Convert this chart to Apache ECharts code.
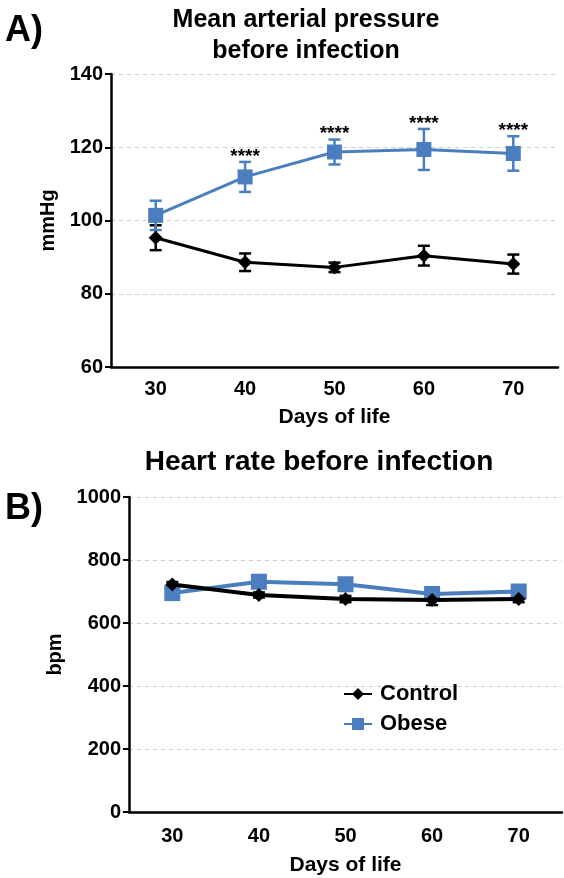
<!DOCTYPE html>
<html>
<head>
<meta charset="utf-8">
<script src="https://cdn.jsdelivr.net/npm/echarts@6/dist/echarts.min.js"></script>
<style>html,body{margin:0;padding:0;background:#fff}#c{width:564px;height:878px}</style>
</head>
<body>
<div id="c"></div>
<script>
// ---- data ----
var days = ['30', '40', '50', '60', '70'];
// A) Mean arterial pressure (mmHg)
var mapControl = [95.3, 88.6, 87.2, 90.4, 88.1];
var mapControlErr = [3.4, 2.4, 1.3, 2.7, 2.6];
var mapObese = [101.4, 111.9, 118.7, 119.4, 118.3];
var mapObeseErr = [4.0, 4.1, 3.4, 5.6, 4.7];
var mapSig = ['', '****', '****', '****', '****'];
var mapTicks = [60, 80, 100, 120, 140];
// B) Heart rate (bpm)
var hrControl = [722, 689, 676, 673, 676];
var hrControlErr = [8, 8, 10, 16, 10];
var hrObese = [695, 731, 723, 692, 700];
var hrObeseErr = [8, 8, 8, 10, 8];
var hrTicks = [0, 200, 400, 600, 800, 1000];

var BLUE = '#4a7ebf';
var BLACK = '#000000';
var FONT = '"Liberation Sans", Arial, sans-serif';

function errData(vals, errs) {
  return vals.map(function (v, i) { return [i, v - errs[i], v + errs[i]]; });
}
function errRender(color, capHalf, lw) {
  return function (params, api) {
    var x = api.value(0);
    var lo = api.coord([x, api.value(1)]);
    var hi = api.coord([x, api.value(2)]);
    var st = { stroke: color, lineWidth: lw };
    return {
      type: 'group',
      children: [
        { type: 'line', shape: { x1: lo[0], y1: lo[1], x2: hi[0], y2: hi[1] }, style: st },
        { type: 'line', shape: { x1: lo[0] - capHalf, y1: lo[1], x2: lo[0] + capHalf, y2: lo[1] }, style: st },
        { type: 'line', shape: { x1: hi[0] - capHalf, y1: hi[1], x2: hi[0] + capHalf, y2: hi[1] }, style: st }
      ]
    };
  };
}
var sigData = mapObese.map(function (v, i) { return [i, v + mapObeseErr[i], mapSig[i]]; });

var chart = echarts.init(document.getElementById('c'), null, { renderer: 'canvas' });

function xAxisCfg(gridIndex, nameGap, margin) {
  return {
    type: 'category', gridIndex: gridIndex, data: days, boundaryGap: true,
    name: 'Days of life', nameLocation: 'middle', nameGap: nameGap,
    nameTextStyle: { fontFamily: FONT, fontWeight: 'bold', fontSize: 21, color: '#000' },
    axisLine: { lineStyle: { color: '#000', width: 2.5 } },
    axisTick: { alignWithLabel: true, length: 6, lineStyle: { color: '#000', width: 2 } },
    axisLabel: { fontFamily: FONT, fontWeight: 'bold', fontSize: 20, color: '#000', margin: margin },
    splitLine: { show: false }
  };
}
function yAxisCfg(gridIndex, min, max, interval, name, nameGap) {
  return {
    type: 'value', gridIndex: gridIndex, min: min, max: max, interval: interval,
    name: name, nameLocation: 'middle', nameGap: nameGap, nameRotate: 90,
    nameTextStyle: { fontFamily: FONT, fontWeight: 'bold', fontSize: 20, color: '#000' },
    axisLine: { show: true, lineStyle: { color: '#000', width: 2.5 } },
    axisTick: { show: true, length: 6, lineStyle: { color: '#000', width: 2 } },
    axisLabel: { fontFamily: FONT, fontWeight: 'bold', fontSize: 20, color: '#000', margin: 8,
      formatter: function (v) { return String(v); } },
    splitLine: { show: true, lineStyle: { color: '#cccccc', type: [4, 4], width: 1 } }
  };
}

var option = {
  animation: false,
  backgroundColor: '#fff',
  title: [
    { text: 'Mean arterial pressure\nbefore infection', left: 301, top: 0, textAlign: 'center',
      textStyle: { fontFamily: FONT, fontWeight: 'bold', fontSize: 25, color: '#000', lineHeight: 31 } },
    { text: 'Heart rate before infection', left: 314, top: 443, textAlign: 'center',
      textStyle: { fontFamily: FONT, fontWeight: 'bold', fontSize: 28, color: '#000' } },
    { text: 'A)', left: 0, top: 8, textStyle: { fontFamily: FONT, fontWeight: 'bold', fontSize: 36, color: '#000' } },
    { text: 'B)', left: 0, top: 486, textStyle: { fontFamily: FONT, fontWeight: 'bold', fontSize: 36, color: '#000' } }
  ],
  legend: {
    orient: 'vertical', left: 338, top: 678, itemWidth: 28, itemHeight: 15, itemGap: 8,
    data: ['Control', 'Obese'],
    textStyle: { fontFamily: FONT, fontWeight: 'bold', fontSize: 22, color: '#000', padding: [0, 0, 0, 3] }
  },
  grid: [
    { left: 111, right: 6, top: 74, bottom: 511 },
    { left: 129, right: 2, top: 497, bottom: 66 }
  ],
  xAxis: [xAxisCfg(0, 40, 12), xAxisCfg(1, 43, 14)],
  yAxis: [
    yAxisCfg(0, mapTicks[0], mapTicks[mapTicks.length - 1], 20, 'mmHg', 43),
    yAxisCfg(1, hrTicks[0], hrTicks[hrTicks.length - 1], 200, 'bpm', 62)
  ],
  series: [
    { type: 'custom', name: 'ctlErrA', xAxisIndex: 0, yAxisIndex: 0, renderItem: errRender(BLACK, 6, 2.5), data: errData(mapControl, mapControlErr), z: 2 },
    { type: 'custom', name: 'obErrA', xAxisIndex: 0, yAxisIndex: 0, renderItem: errRender(BLUE, 6, 2.5), data: errData(mapObese, mapObeseErr), z: 2 },
    { type: 'line', name: 'Control', xAxisIndex: 0, yAxisIndex: 0, data: mapControl, symbol: 'diamond', symbolSize: 14,
      lineStyle: { color: BLACK, width: 3 }, itemStyle: { color: BLACK }, z: 3 },
    { type: 'line', name: 'Obese', xAxisIndex: 0, yAxisIndex: 0, data: mapObese, symbol: 'rect', symbolSize: 15,
      lineStyle: { color: BLUE, width: 3 }, itemStyle: { color: BLUE }, z: 4 },
    { type: 'custom', name: 'sig', xAxisIndex: 0, yAxisIndex: 0, z: 5,
      renderItem: function (params, api) {
        var p = api.coord([api.value(0), api.value(1)]);
        return { type: 'text', style: { text: sigData[params.dataIndex][2], x: p[0], y: p[1] + 4, textAlign: 'center', textVerticalAlign: 'bottom',
          font: 'bold 19px ' + FONT, fill: '#000' } };
      },
      data: sigData },
    { type: 'custom', name: 'ctlErrB', xAxisIndex: 1, yAxisIndex: 1, renderItem: errRender(BLACK, 6, 2.5), data: errData(hrControl, hrControlErr), z: 2 },
    { type: 'custom', name: 'obErrB', xAxisIndex: 1, yAxisIndex: 1, renderItem: errRender(BLUE, 6, 2.5), data: errData(hrObese, hrObeseErr), z: 2 },
    { type: 'line', name: 'Obese', xAxisIndex: 1, yAxisIndex: 1, data: hrObese, symbol: 'rect', symbolSize: 16,
      lineStyle: { color: BLUE, width: 4 }, itemStyle: { color: BLUE }, z: 3 },
    { type: 'line', name: 'Control', xAxisIndex: 1, yAxisIndex: 1, data: hrControl, symbol: 'diamond', symbolSize: 14,
      lineStyle: { color: BLACK, width: 4 }, itemStyle: { color: BLACK }, z: 4 }
  ]
};
chart.setOption(option);
</script>
</body>
</html>
